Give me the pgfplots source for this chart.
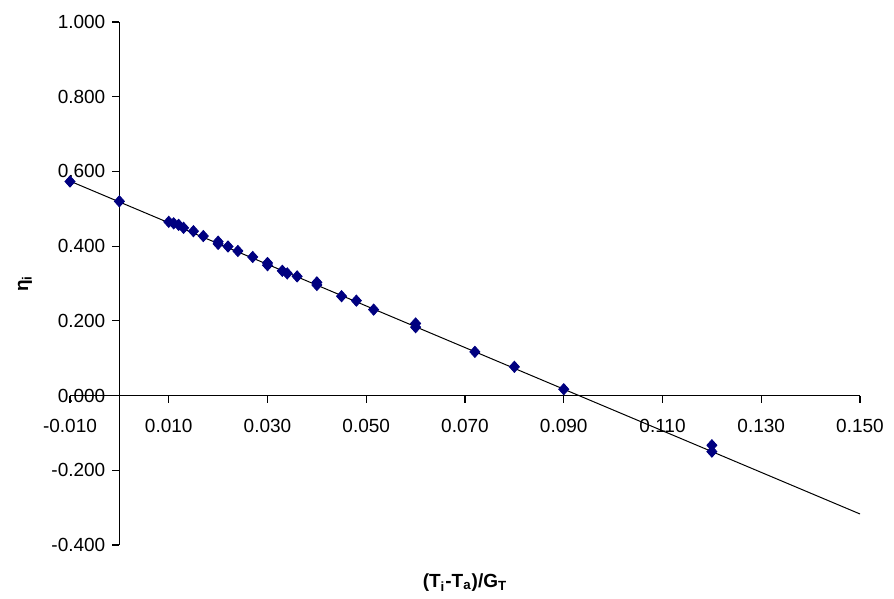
\documentclass[border=0pt]{standalone}
\usepackage{pgfplots}
\pgfplotsset{compat=1.18}
\usepackage{fontspec}
\setmainfont{Liberation Sans}
\definecolor{navy}{RGB}{0,0,128}
\begin{document}
\begin{tikzpicture}
\begin{axis}[
  name=ax,
  scale only axis,
  width=395pt, height=261.5pt,
  xmin=-0.01, xmax=0.15,
  ymin=-0.4, ymax=1.0,
  axis lines=middle,
  axis line style={-, line width=0.6pt},
  xtick={-0.01,0.01,0.03,0.05,0.07,0.09,0.11,0.13,0.15},
  ytick={-0.4,-0.2,0,0.2,0.4,0.6,0.8,1.0},
  hide obscured x ticks=false,
  hide obscured y ticks=false,
  tick align=outside,
  major tick length=3.5pt,
  tick style={black, line width=0.6pt},
  xticklabel style={yshift=-5pt, /pgf/number format/.cd, fixed, fixed zerofill, precision=3, assume math mode=true},
  yticklabel style={/pgf/number format/.cd, fixed, fixed zerofill, precision=3, assume math mode=true},
  ticklabel style={font=\fontsize{9.5}{10}\selectfont},
  xlabel={\bfseries (T\textsubscript{i}-T\textsubscript{a})/G\textsubscript{T}},
  ylabel={\bfseries η\textsubscript{i}},
  xlabel style={at={(axis description cs:0.5,0)}, anchor=north, yshift=-11pt, font=\fontsize{9.5}{10}\selectfont},
  ylabel style={at={(axis description cs:0,0.5)}, anchor=center, rotate=90, yshift=22.5pt, font=\fontsize{9.5}{10}\selectfont},
  clip=false,
]
\addplot[only marks, mark=diamond*, mark size=2.8pt, mark options={fill=navy, draw=navy, xscale=1.2}, color=navy] coordinates {
(-0.010,0.573)
(0.000,0.520)
(0.010,0.465)
(0.011,0.461)
(0.012,0.457)
(0.013,0.449)
(0.015,0.440)
(0.017,0.427)
(0.020,0.412)
(0.020,0.406)
(0.022,0.399)
(0.024,0.387)
(0.027,0.371)
(0.030,0.355)
(0.030,0.349)
(0.033,0.334)
(0.034,0.327)
(0.036,0.319)
(0.040,0.303)
(0.040,0.296)
(0.045,0.266)
(0.048,0.254)
(0.0515,0.230)
(0.060,0.193)
(0.060,0.183)
(0.072,0.117)
(0.080,0.077)
(0.090,0.017)
(0.120,-0.133)
(0.120,-0.150)
};
\addplot[black, line width=0.5pt, no marks] coordinates {(-0.010,0.574) (0.150,-0.317)};
\end{axis}
\path ([shift={(-35pt,-26pt)}]ax.south west) rectangle ([shift={(17pt,11pt)}]ax.north east);
\end{tikzpicture}
\end{document}
